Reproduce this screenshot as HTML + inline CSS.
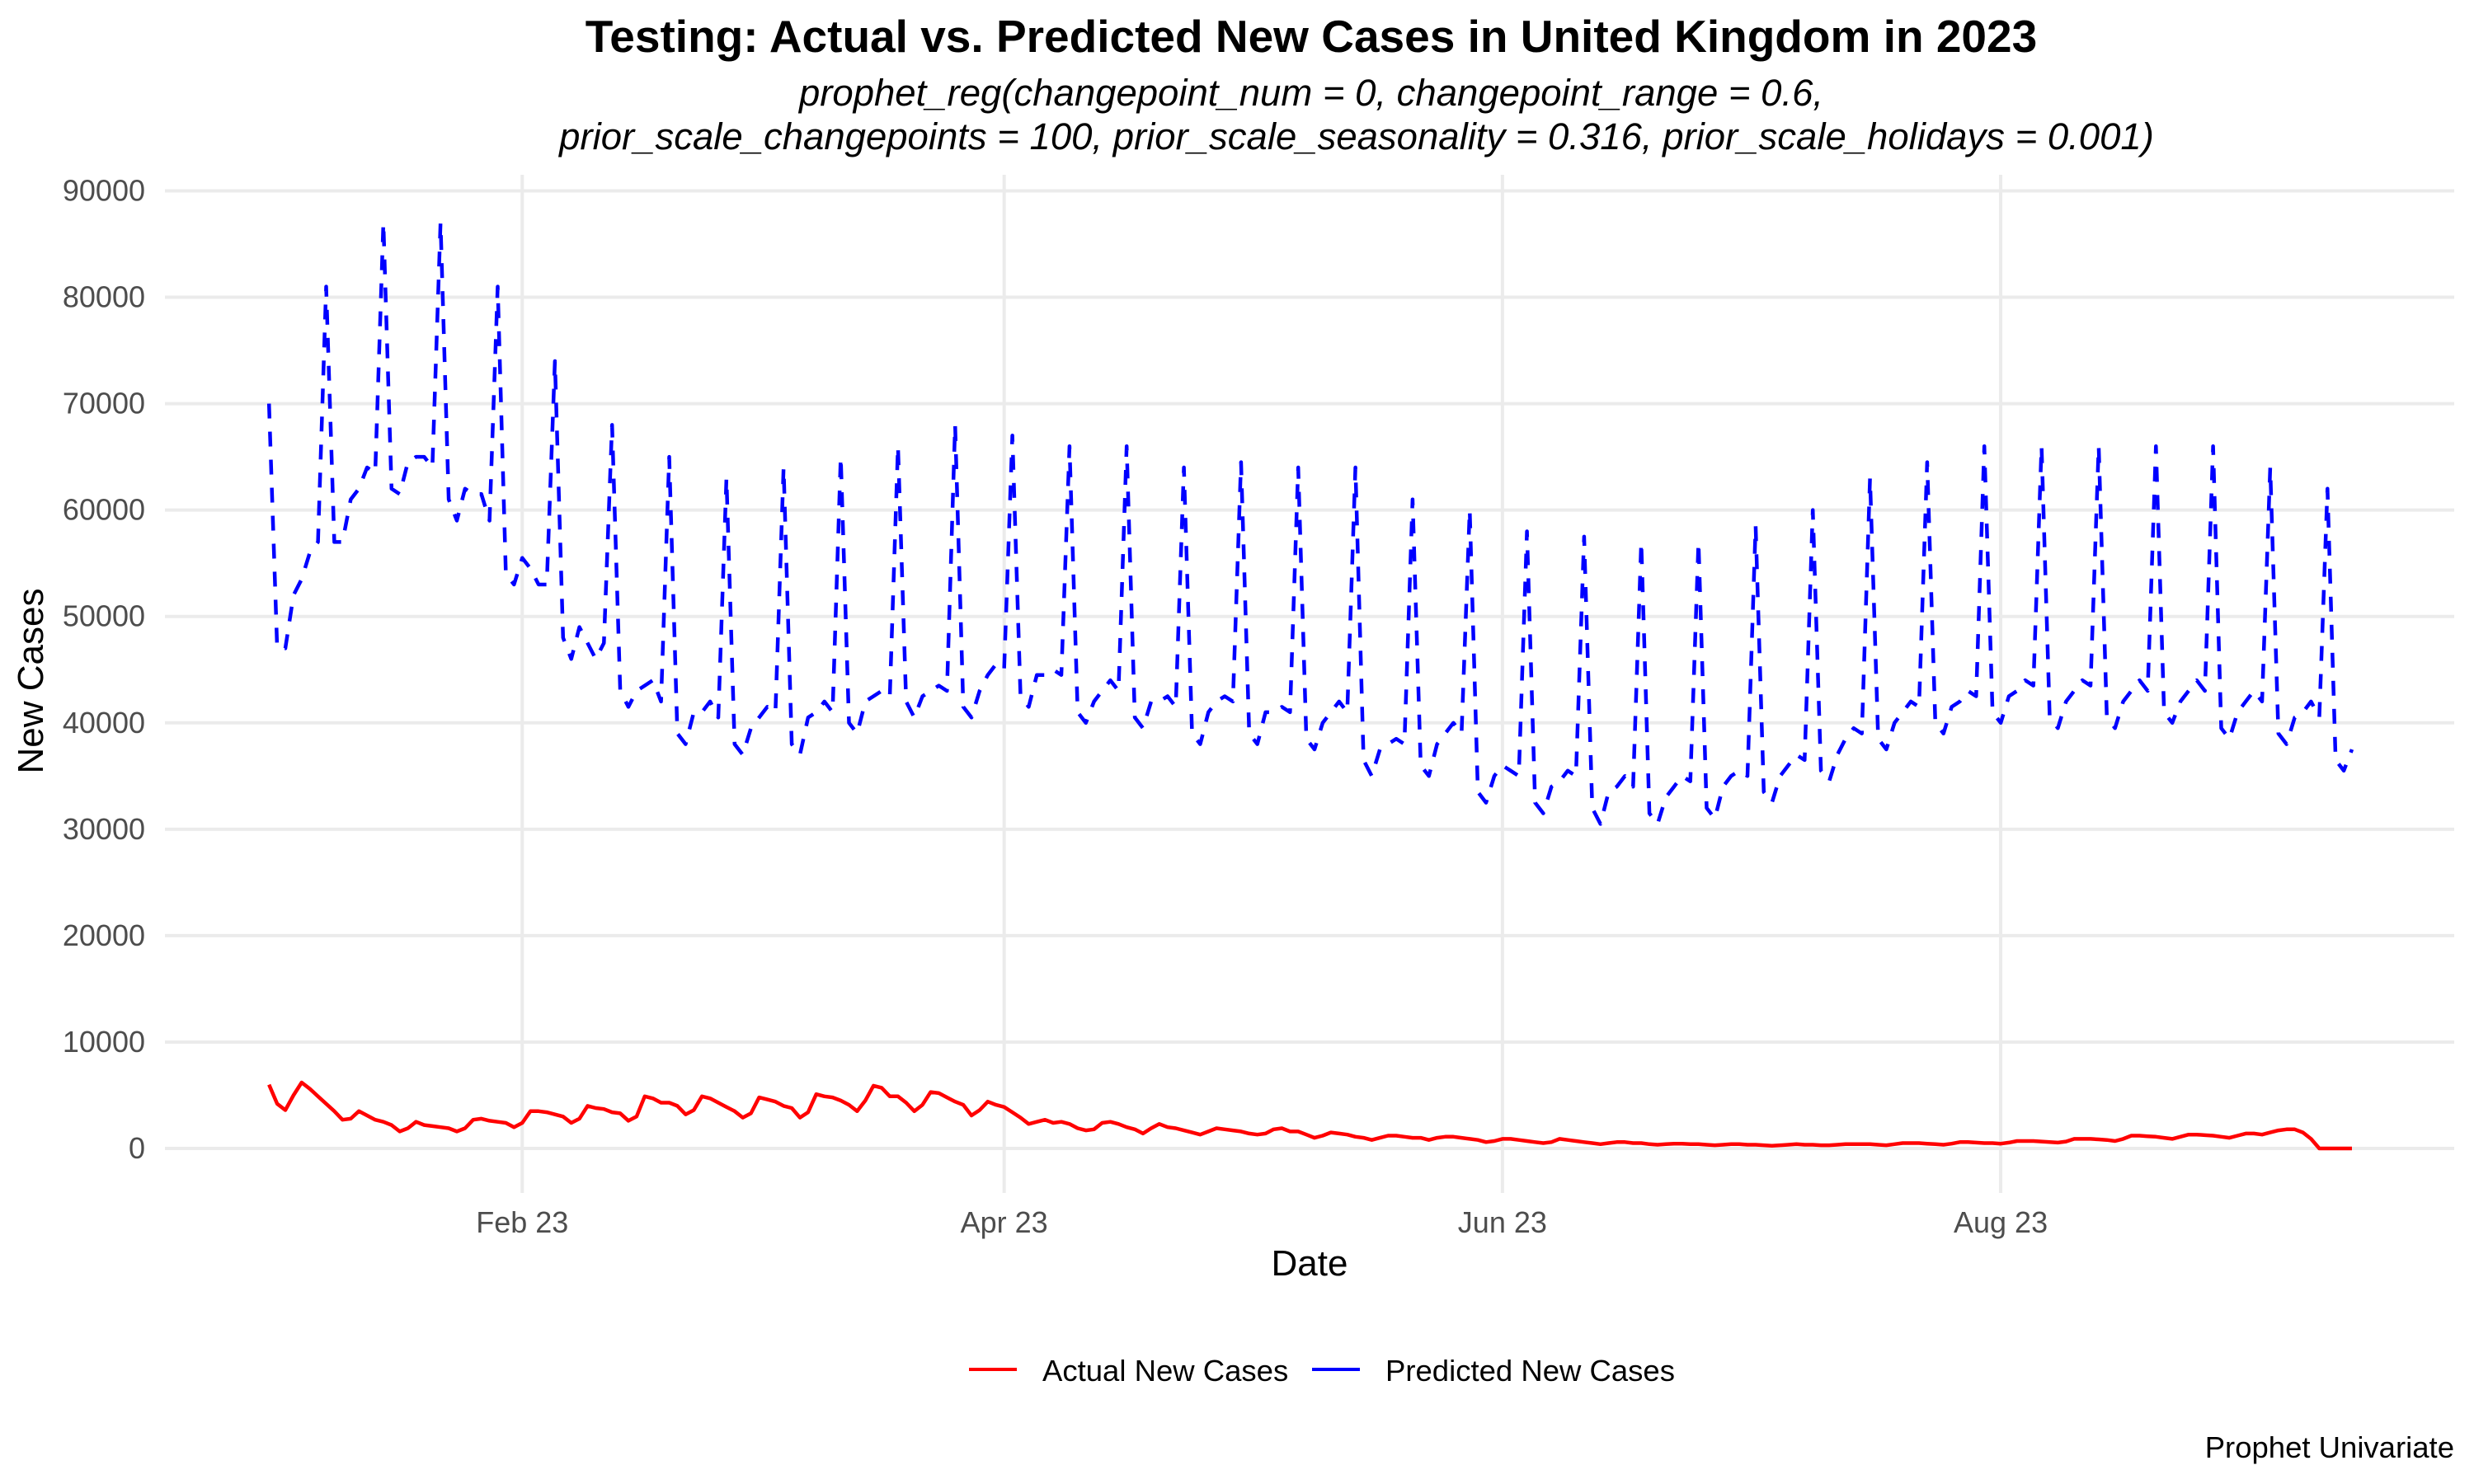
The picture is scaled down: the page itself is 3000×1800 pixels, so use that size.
<!DOCTYPE html>
<html><head><meta charset="utf-8">
<style>
html,body{margin:0;padding:0;background:#fff;}
svg{display:block;font-family:"Liberation Sans",sans-serif;}
</style></head>
<body>
<svg id="chart" width="3000" height="1800" viewBox="0 0 3000 1800" xmlns="http://www.w3.org/2000/svg">
<rect width="3000" height="1800" fill="#fff"/>
<text x="1590" y="63" text-anchor="middle" font-size="55" font-weight="bold" fill="#000">Testing: Actual vs. Predicted New Cases in United Kingdom in 2023</text>
<text x="1590" y="128" text-anchor="middle" font-size="45.5" font-style="italic" fill="#000">prophet_reg(changepoint_num = 0, changepoint_range = 0.6,</text>
<text x="1645" y="181" text-anchor="middle" font-size="45.5" font-style="italic" fill="#000">prior_scale_changepoints = 100, prior_scale_seasonality = 0.316, prior_scale_holidays = 0.001)</text>
<g id="grid"></g>
<g id="yticks"></g>
<g id="xticks"></g>
<g id="series"></g>
<text x="1588" y="1547" text-anchor="middle" font-size="44" fill="#000">Date</text>
<text transform="translate(52,826) rotate(-90)" text-anchor="middle" font-size="44" fill="#000">New Cases</text>
<g>
  <g>
    <line x1="1175" y1="1661" x2="1233" y2="1661" stroke="#ff0000" stroke-width="4"/>
    <text x="1264" y="1675" font-size="36.5" fill="#000">Actual New Cases</text>
  </g>
  <g>
    <line x1="1591" y1="1661" x2="1649" y2="1661" stroke="#0000ff" stroke-width="4"/>
    <text x="1680" y="1675" font-size="36.5" fill="#000">Predicted New Cases</text>
  </g>
</g>
<text x="2976" y="1768" text-anchor="end" font-size="36.5" fill="#000">Prophet Univariate</text>
</svg>
<script>
const yTicks = [0,10000,20000,30000,40000,50000,60000,70000,80000,90000];
const xTickDays = [31,90,151,212];
const xTickLabels = ["Feb 23","Apr 23","Jun 23","Aug 23"];
const actual = [6.0,4.2,3.6,5.0,
6.2,5.6,4.9,4.2,3.5,2.7,2.8,
3.5,3.1,2.7,2.5,2.2,1.6,1.9,
2.5,2.2,2.1,2.0,1.9,1.6,1.9,
2.7,2.8,2.6,2.5,2.4,2.0,2.4,
3.5,3.5,3.4,3.2,3.0,2.4,2.8,
4.0,3.8,3.7,3.4,3.3,2.6,3.0,
4.9,4.7,4.3,4.3,4.0,3.2,3.6,
4.9,4.7,4.3,3.9,3.5,2.9,3.3,
4.8,4.6,4.4,4.0,3.8,2.9,3.4,
5.1,4.9,4.8,4.5,4.1,3.5,4.5,
5.9,5.7,4.9,4.9,4.3,3.5,4.1,
5.3,5.2,4.8,4.4,4.1,3.1,3.6,
4.4,4.1,3.9,3.4,2.9,2.3,2.5,
2.7,2.4,2.5,2.3,1.9,1.7,1.8,
2.4,2.5,2.3,2.0,1.8,1.4,1.9,
2.3,2.0,1.9,1.7,1.5,1.3,1.6,
1.9,1.8,1.7,1.6,1.4,1.3,1.4,
1.8,1.9,1.6,1.6,1.3,1.0,1.2,
1.5,1.4,1.3,1.1,1.0,0.8,1.0,
1.2,1.2,1.1,1.0,1.0,0.8,1.0,
1.1,1.1,1.0,0.9,0.8,0.6,0.7,
0.9,0.9,0.8,0.7,0.6,0.5,0.6,
0.9,0.8,0.7,0.6,0.5,0.4,0.5,
0.6,0.6,0.5,0.5,0.4,0.35,0.4,
0.45,0.45,0.4,0.4,0.35,0.3,0.35,
0.4,0.4,0.35,0.35,0.3,0.25,0.3,
0.35,0.4,0.35,0.35,0.3,0.3,0.35,
0.4,0.4,0.4,0.4,0.35,0.3,0.4,
0.5,0.5,0.5,0.45,0.4,0.35,0.45,
0.6,0.6,0.55,0.5,0.5,0.45,0.55,
0.7,0.7,0.7,0.65,0.6,0.55,0.65,
0.9,0.9,0.9,0.85,0.8,0.7,0.9,
1.2,1.2,1.15,1.1,1.0,0.9,1.1,
1.3,1.3,1.25,1.2,1.1,1.0,1.2,
1.4,1.4,1.3,1.5,1.7,1.8,1.8,
1.5,0.9,0,0,0,0,0];
const predicted = [70,
47,47,52,53.5,56,57,
81,57,57,61,62,64,63.5,
87,62,61.5,64.5,65,65,64,
87,61,59,62,61.5,61.5,59,
81,54,53,55.5,54.5,53,53,
74,48,46,49,47.5,46,47.5,
68,43,41.5,43,43.5,44,42,
65,39,38,41,41,42,40.5,
63,38,37,39.5,40.5,41.5,41,
64,38,37,40.5,41,42,41,
65,40,39,42,42.5,43,42.5,
66,42,40.5,42.5,43,43.5,43,
68,41.5,40.5,43,44.5,45.5,45,
67,42.5,41.5,44.5,44.5,45,44.5,
66,41,40,42,43,44,43,
66,40.5,39.5,42,42,42.5,41.5,
64,39,38,41,42,42.5,42,
64.5,39,38,41,41,41.5,41,
64,38.5,37.5,40,41,42,41,
64,36.5,35,37.5,38,38.5,38,
61,36,35,38,39,40,39,
60,33.5,32.5,35,36,35.5,35,
58,32.5,31.5,34,34.5,35.5,35,
57.5,32,30.5,33.5,34,35,34,
57,31.5,30.5,33,34,35,34.5,
57,32,31,34,35,35.5,35,
58.5,33.5,32.5,35,36,37,36.5,
60,35.5,34.5,37,38.5,39.5,39,
63,38.5,37.5,40,41,42,41.5,
64.5,40,39,41.5,42,43,42.5,
66,41,40,42.5,43,44,43.5,
66,40.5,39.5,42,43,44,43.5,
66,40.5,39.5,42,43,44,43,
66,41,40,42,43,44,43,
66,39.5,38.5,41,42,43,42,
64,39,38,40.5,41,42,40.5,
62,36.5,35.5,37.5];

const NS="http://www.w3.org/2000/svg";
const X0=326.2, DX=9.905, Y0=1393, DY=129.06/10000;
function xs(d){return X0+d*DX;}
function ys(v){return Y0-v*DY;}
function mk(tag,attrs,parent){const e=document.createElementNS(NS,tag);for(const k in attrs)e.setAttribute(k,attrs[k]);parent.appendChild(e);return e;}
const grid=document.getElementById('grid'), yt=document.getElementById('yticks'), xt=document.getElementById('xticks'), ser=document.getElementById('series');
yTicks.forEach(v=>{
  const l=mk('line',{x1:200,x2:2976,y1:ys(v),y2:ys(v),stroke:'#ebebeb','stroke-width':4},grid);
  
  
  const t=mk('text',{x:176,y:ys(v)+12,'text-anchor':'end','font-size':36,fill:'#4d4d4d'},yt);
  t.textContent=String(v);
  
  
});
xTickDays.forEach((d,i)=>{
  const l=mk('line',{x1:xs(d),x2:xs(d),y1:212,y2:1447,stroke:'#ebebeb','stroke-width':4},grid);
  
  
  const t=mk('text',{x:xs(d),y:1495,'text-anchor':'middle','font-size':36,fill:'#4d4d4d'},xt);
  t.textContent=xTickLabels[i];
  
  
});
function pathOf(arr,scale){return arr.map((v,i)=>(i?'L':'M')+xs(i).toFixed(1)+','+ys(v*scale).toFixed(1)).join('');}
const pp=mk('path',{d:pathOf(predicted,1000),fill:'none',stroke:'#0000ff','stroke-width':4.5,'stroke-dasharray':'18 16','stroke-linejoin':'round'},ser);


const ap=mk('path',{d:pathOf(actual,1000),fill:'none',stroke:'#ff0000','stroke-width':4.5,'stroke-linejoin':'round'},ser);


</script>
</body></html>
